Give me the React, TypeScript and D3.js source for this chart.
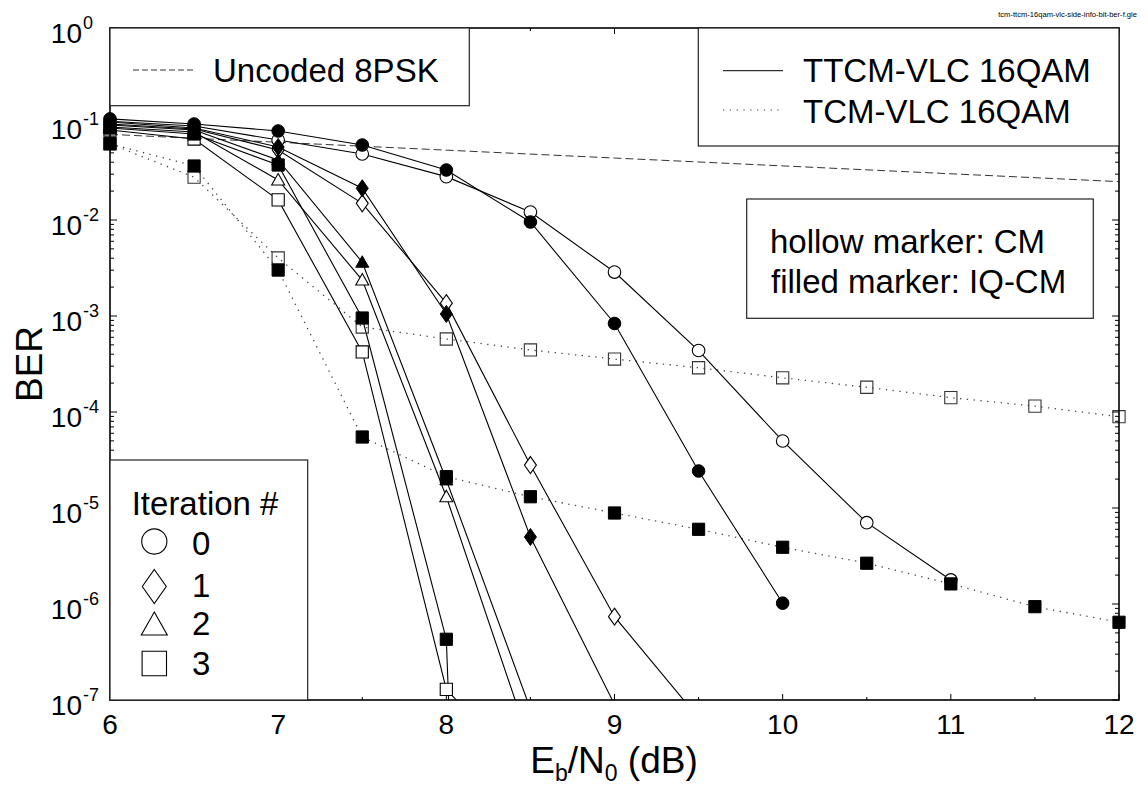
import React from "react";
import * as d3 from "d3";

// Eb/N0 grid (dB)
const EBN0 = [6, 6.5, 7, 7.5, 8, 8.5, 9, 9.5, 10, 10.5, 11, 11.5, 12];

// TTCM-VLC 16QAM (solid lines), values start at 6 dB in 0.5 dB steps
const ttcmIt0CM = [0.107, 0.0953, 0.0681, 0.0487, 0.0283, 0.0121, 0.00287, 4.37e-4, 4.99e-5, 7.03e-6, 1.78e-6];
const ttcmIt0IQ = [0.113, 0.1, 0.0846, 0.0604, 0.0332, 0.00953, 8.36e-4, 2.43e-5, 1.02e-6];
const ttcmIt1CM = [0.1, 0.0887, 0.0537, 0.0149, 1.36e-3, 2.8e-5, 7.38e-7, 6.5e-8];
const ttcmIt1IQ = [0.105, 0.0908, 0.0576, 0.0214, 1.05e-3, 4.99e-6, 9e-8];
const ttcmIt2CM = [0.093, 0.0826, 0.0261, 2.37e-3, 1.31e-5, 3.4e-8];
const ttcmIt2IQ = [0.0977, 0.0866, 0.0422, 3.63e-3, 1.96e-5, 8.05e-8];
const ttcmIt3CM = [0.0866, 0.0698, 0.0162, 4.22e-4, 1.29e-7, 1.5e-8];
const ttcmIt3IQ = [0.0908, 0.0787, 0.0374, 9.53e-4, 4.29e-7, 1e-30];

// TCM-VLC 16QAM (dotted lines)
const tcmCM = [0.0623, 0.0279, 4.02e-3, 7.68e-4, 5.76e-4, 4.43e-4, 3.56e-4, 2.89e-4, 2.27e-4, 1.81e-4, 1.41e-4, 1.15e-4, 8.93e-5];
const tcmIQ = [0.0623, 0.0365, 3.01e-3, 5.49e-5, 2.12e-5, 1.31e-5, 8.87e-6, 6.0e-6, 3.9e-6, 2.66e-6, 1.62e-6, 9.38e-7, 6.45e-7];

// Uncoded 8PSK (dashed)
const uncodedEbN0 = [6, 9, 12];
const uncoded8PSK = [0.078, 0.0442, 0.0251];

const xTickLabels = ["6", "7", "8", "9", "10", "11", "12"];
const yExponents = [0, -1, -2, -3, -4, -5, -6, -7];
const iterationLabels = ["0", "1", "2", "3"];

type Shape = "circle" | "diamond" | "triangle" | "square";

const W = 1148;
const H = 785;
const FONT = "'Liberation Sans', Arial, Helvetica, sans-serif";

const x = d3.scaleLinear().domain([6, 12]).range([110, 1119]);
const y = d3.scaleLog().domain([1e-7, 1]).range([700, 28]);

function markerPath(shape: Shape, s: number): string {
  switch (shape) {
    case "circle": {
      const r = 6.3 * s;
      return `M${-r},0A${r},${r} 0 1,0 ${r},0A${r},${r} 0 1,0 ${-r},0Z`;
    }
    case "diamond": {
      const hw = 6 * s, hh = 8.5 * s;
      return `M0,${-hh}L${hw},0L0,${hh}L${-hw},0Z`;
    }
    case "triangle": {
      const hw = 6.5 * s;
      return `M0,${-6.5 * s}L${hw},${5 * s}L${-hw},${5 * s}Z`;
    }
    default: {
      const h = 6.1 * s;
      return `M${-h},${-h}H${h}V${h}H${-h}Z`;
    }
  }
}

interface Series {
  vals: number[];
  shape: Shape;
  filled: boolean;
  style: "solid" | "dotted";
}

const series: Series[] = [
  { vals: tcmCM, shape: "square", filled: false, style: "dotted" },
  { vals: tcmIQ, shape: "square", filled: true, style: "dotted" },
  { vals: ttcmIt0CM, shape: "circle", filled: false, style: "solid" },
  { vals: ttcmIt0IQ, shape: "circle", filled: true, style: "solid" },
  { vals: ttcmIt1CM, shape: "diamond", filled: false, style: "solid" },
  { vals: ttcmIt1IQ, shape: "diamond", filled: true, style: "solid" },
  { vals: ttcmIt2CM, shape: "triangle", filled: false, style: "solid" },
  { vals: ttcmIt2IQ, shape: "triangle", filled: true, style: "solid" },
  { vals: ttcmIt3CM, shape: "square", filled: false, style: "solid" },
  { vals: ttcmIt3IQ, shape: "square", filled: true, style: "solid" },
];

const line = d3
  .line<[number, number]>()
  .x((d) => x(d[0]))
  .y((d) => y(d[1]));

export default function App() {
  const xMajor = d3.range(6, 12.001, 1);
  const xMinor = d3.range(6.5, 12, 1);
  const yMinor: number[] = [];
  for (let k = -7; k < 0; k++) for (let m = 2; m <= 9; m++) yMinor.push(m * Math.pow(10, k));

  const pts = (s: Series) => s.vals.map((v, i) => [EBN0[i], v] as [number, number]);
  const visible = (d: [number, number]) => d[1] >= 1e-7 * 0.999 && d[1] <= 1;

  const legendMarkers: Shape[] = ["circle", "diamond", "triangle", "square"];
  const legendBase = [555, 596.5, 635, 675];
  const legendMarkY = [541.5, 586.5, 625, 663.5];

  return (
    <svg width={W} height={H} style={{ position: "absolute", left: 0, top: 0, background: "#fff" }} fontFamily={FONT}>
      <defs>
        <clipPath id="plotClip">
          <rect x={110} y={28} width={1009} height={672} />
        </clipPath>
      </defs>
      <rect x={0} y={0} width={W} height={H} fill="#fff" />

      {/* ticks */}
      <g stroke="#000" strokeWidth={1}>
        {xMajor.map((v) => (
          <g key={"xM" + v}>
            <line x1={x(v)} x2={x(v)} y1={700} y2={694} />
            <line x1={x(v)} x2={x(v)} y1={28} y2={34} />
          </g>
        ))}
        {xMinor.map((v) => (
          <g key={"xm" + v}>
            <line x1={x(v)} x2={x(v)} y1={700} y2={697} />
            <line x1={x(v)} x2={x(v)} y1={28} y2={31} />
          </g>
        ))}
        {yExponents.map((e) => (
          <g key={"yM" + e}>
            <line x1={110} x2={117} y1={y(Math.pow(10, e))} y2={y(Math.pow(10, e))} />
            <line x1={1119} x2={1112} y1={y(Math.pow(10, e))} y2={y(Math.pow(10, e))} />
          </g>
        ))}
        {yMinor.map((v, i) => (
          <g key={"ym" + i}>
            <line x1={110} x2={114} y1={y(v)} y2={y(v)} />
            <line x1={1119} x2={1115} y1={y(v)} y2={y(v)} />
          </g>
        ))}
      </g>

      {/* curves */}
      <g clipPath="url(#plotClip)" fill="none">
        <path
          d={line(uncodedEbN0.map((e, i) => [e, uncoded8PSK[i]] as [number, number])) || ""}
          stroke="#333"
          strokeWidth={1}
          strokeDasharray="8 4"
        />
        {series.map((s, i) => (
          <path
            key={"l" + i}
            d={line(pts(s)) || ""}
            stroke={s.style === "dotted" ? "#444" : "#000"}
            strokeWidth={s.style === "dotted" ? 1.3 : 1.1}
            strokeDasharray={s.style === "dotted" ? "1.3 5.5" : undefined}
          />
        ))}
      </g>

      {/* hollow markers first, then filled */}
      <g>
        {series
          .filter((s) => !s.filled)
          .map((s, i) =>
            pts(s)
              .filter(visible)
              .map((d, j) => (
                <path
                  key={"h" + i + "-" + j}
                  d={markerPath(s.shape, 1)}
                  transform={`translate(${x(d[0])},${y(d[1])})`}
                  fill={s.style === "dotted" ? "none" : "#fff"}
                  stroke={s.style === "dotted" ? "#333" : "#000"}
                  strokeWidth={1.1}
                />
              ))
          )}
        {series
          .filter((s) => s.filled)
          .map((s, i) =>
            pts(s)
              .filter(visible)
              .map((d, j) => (
                <path
                  key={"f" + i + "-" + j}
                  d={markerPath(s.shape, 1)}
                  transform={`translate(${x(d[0])},${y(d[1])})`}
                  fill="#000"
                  stroke="#000"
                  strokeWidth={1}
                />
              ))
          )}
      </g>

      {/* frame */}
      <rect x={110} y={28} width={1009} height={672} fill="none" stroke="#000" strokeWidth={1.6} />

      {/* legend: uncoded */}
      <rect x={110} y={28} width={359.3} height={77.7} fill="#fff" stroke="#222" strokeWidth={1.2} />
      <line x1={133} x2={193} y1={70} y2={70} stroke="#333" strokeWidth={1} strokeDasharray="6 3" />
      <text x={213} y={82} fontSize={33}>Uncoded 8PSK</text>

      {/* legend: TTCM / TCM */}
      <rect x={698.3} y={28} width={420.7} height={118} fill="#fff" stroke="#222" strokeWidth={1.2} />
      <line x1={723} x2={783} y1={70.7} y2={70.7} stroke="#000" strokeWidth={1} />
      <line x1={723} x2={783} y1={110} y2={110} stroke="#444" strokeWidth={1.2} strokeDasharray="1.3 5.5" />
      <text x={803} y={82} fontSize={33}>TTCM-VLC 16QAM</text>
      <text x={803} y={123} fontSize={33}>TCM-VLC 16QAM</text>

      {/* legend: marker meaning */}
      <rect x={746.7} y={199} width={346.6} height={119.3} fill="#fff" stroke="#222" strokeWidth={1.2} />
      <text x={770} y={253} fontSize={33}>hollow marker: CM</text>
      <text x={771} y={293} fontSize={33}>filled marker: IQ-CM</text>

      {/* legend: iterations */}
      <rect x={110} y={460} width={197.7} height={240} fill="#fff" stroke="#222" strokeWidth={1.2} />
      <text x={131.7} y={515} fontSize={33}>Iteration #</text>
      {iterationLabels.map((lab, i) => (
        <g key={"it" + i}>
          <path
            d={markerPath(legendMarkers[i], 2)}
            transform={`translate(154.3,${legendMarkY[i]})`}
            fill="#fff"
            stroke="#000"
            strokeWidth={1.1}
          />
          <text x={192} y={legendBase[i]} fontSize={33}>{lab}</text>
        </g>
      ))}

      {/* x tick labels */}
      {xMajor.map((v, i) => (
        <text key={"xl" + v} x={x(v)} y={734} fontSize={28} textAnchor="middle">
          {xTickLabels[i]}
        </text>
      ))}

      {/* y tick labels */}
      {yExponents.map((e) => {
        const ty = y(Math.pow(10, e));
        return (
          <g key={"yl" + e}>
            <text x={82} y={ty + 14.5} fontSize={28} textAnchor="end">10</text>
            <text x={83} y={ty + 1} fontSize={18}>{e === 0 ? "0" : "-" + Math.abs(e)}</text>
          </g>
        );
      })}

      {/* axis titles */}
      <text x={614} y={773} fontSize={37} textAnchor="middle">
        E<tspan fontSize={23} dy={8}>b</tspan>
        <tspan dy={-8}>/N</tspan>
        <tspan fontSize={23} dy={8}>0</tspan>
        <tspan dy={-8}> (dB)</tspan>
      </text>
      <text transform="translate(42,364) rotate(-90)" fontSize={37} textAnchor="middle">BER</text>

      {/* file name */}
      <text x={1137} y={17} fontSize={7.6} textAnchor="end">
        tcm-ttcm-16qam-vlc-side-info-bit-ber-f.gle
      </text>
    </svg>
  );
}
